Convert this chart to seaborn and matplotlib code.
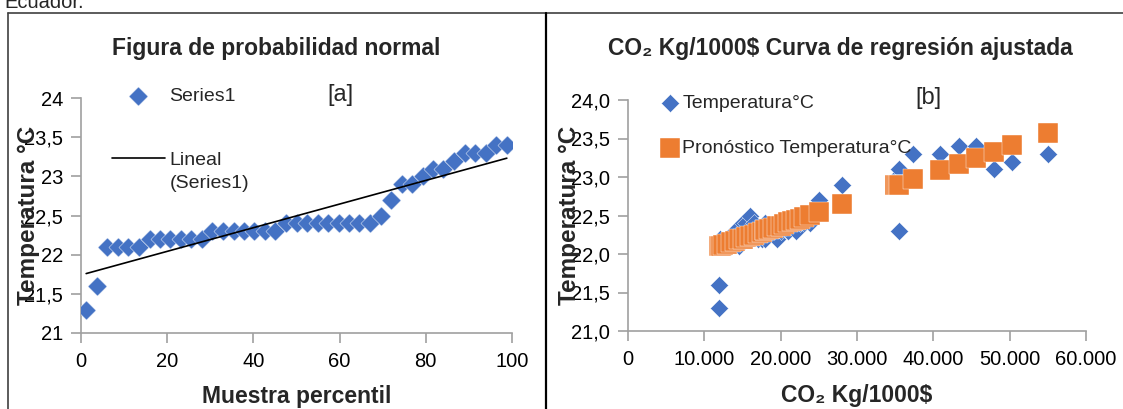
import matplotlib
matplotlib.use('Agg')
import matplotlib.pyplot as plt
from matplotlib.lines import Line2D
import seaborn as sns
import pandas as pd

# [a] normal probability plot: sample percentile vs temperature (sorted)
percentil = [1.2, 3.7, 6.1, 8.5, 11.0, 13.4, 15.9, 18.3, 20.7, 23.2, 25.6, 28.0, 30.5, 32.9,
             35.4, 37.8, 40.2, 42.7, 45.1, 47.6, 50.0, 52.4, 54.9, 57.3, 59.8, 62.2, 64.6,
             67.1, 69.5, 72.0, 74.4, 76.8, 79.3, 81.7, 84.1, 86.6, 89.0, 91.5, 93.9, 96.3, 98.8]
temp_sorted = [21.3, 21.6, 22.1, 22.1, 22.1, 22.1, 22.2, 22.2, 22.2, 22.2, 22.2, 22.2,
               22.3, 22.3, 22.3, 22.3, 22.3, 22.3, 22.3, 22.4, 22.4, 22.4, 22.4, 22.4,
               22.4, 22.4, 22.4, 22.4, 22.5, 22.7, 22.9, 22.9, 23.0, 23.1, 23.1, 23.2,
               23.3, 23.3, 23.3, 23.4, 23.4]

# [b] CO2 Kg/1000$ vs temperature and fitted forecast
co2 = [11900, 11900, 12000, 12200, 12500, 13000, 13500, 14000, 14500, 15000,
       15500, 16000, 16500, 17000, 17500, 18000, 18000, 18500, 19000, 19500,
       20000, 20500, 21000, 21500, 22000, 22500, 23000, 23900, 25000, 28100,
       35000, 35300, 35500, 35500, 37400, 40900, 43400, 45600, 47900, 50300, 55000]
temp = [21.3, 21.6, 22.2, 22.1, 22.1, 22.2, 22.1, 22.3, 22.1, 22.4,
        22.4, 22.5, 22.4, 22.2, 22.2, 22.4, 22.2, 22.3, 22.3, 22.2,
        22.3, 22.4, 22.3, 22.4, 22.3, 22.4, 22.4, 22.4, 22.7, 22.9,
        22.9, 23.0, 23.1, 22.3, 23.3, 23.3, 23.4, 23.4, 23.1, 23.2, 23.3]
pronostico = [22.10, 22.10, 22.10, 22.11, 22.12, 22.13, 22.15, 22.17, 22.19, 22.20,
              22.22, 22.24, 22.25, 22.27, 22.29, 22.31, 22.31, 22.32, 22.34, 22.36,
              22.37, 22.39, 22.41, 22.43, 22.44, 22.46, 22.48, 22.51, 22.55, 22.65,
              22.89, 22.90, 22.90, 22.90, 22.97, 23.09, 23.17, 23.25, 23.33, 23.41, 23.57]

a_yticks = [21, 21.5, 22, 22.5, 23, 23.5, 24]
a_yticklabels = ['21', '21,5', '22', '22,5', '23', '23,5', '24']
a_xticks = [0, 20, 40, 60, 80, 100]
b_yticks = [21, 21.5, 22, 22.5, 23, 23.5, 24]
b_yticklabels = ['21,0', '21,5', '22,0', '22,5', '23,0', '23,5', '24,0']
b_xticks = [0, 10000, 20000, 30000, 40000, 50000, 60000]
b_xticklabels = ['0', '10.000', '20.000', '30.000', '40.000', '50.000', '60.000']

df_a = pd.DataFrame({'percentil': percentil, 'temp': temp_sorted})
df_b = pd.DataFrame({'co2': co2, 'temp': temp, 'pron': pronostico})

sns.set_style('white')
plt.rcParams['font.family'] = ['Liberation Sans Narrow', 'Liberation Sans', 'DejaVu Sans']

BLUE = '#4472C4'
ORANGE = '#ED7D31'
GRAY = '#a0a0a0'
W, H = 1123, 409

fig = plt.figure(figsize=(W / 100, H / 100), dpi=100)
ax1 = fig.add_axes([81 / W, 1 - 333 / H, 431 / W, 235 / H])
ax2 = fig.add_axes([628 / W, 1 - 331 / H, 458 / W, 231 / H])

# panel a
sns.scatterplot(data=df_a, x='percentil', y='temp', marker='D', s=95, color=BLUE,
                edgecolor='white', linewidth=0.3, ax=ax1, label='Series1', zorder=3)
sns.regplot(data=df_a, x='percentil', y='temp', scatter=False, ci=None, ax=ax1,
            color='black', line_kws={'lw': 1.2, 'zorder': 4}, label='Lineal')
ax1.set_xlim(0, 100)
ax1.set_ylim(21, 24)
ax1.set_xticks(a_xticks)
ax1.set_yticks(a_yticks)
ax1.set_yticklabels(a_yticklabels)
ax1.legend(loc='upper left', bbox_to_anchor=(112 / W, 1 - 87 / H),
           bbox_transform=fig.transFigure, frameon=False, fontsize=14,
           handlelength=2.7, handletextpad=0.25, labelspacing=2.4, borderpad=0,
           borderaxespad=0)
fig.text(170 / W, 1 - 183 / H, '(Series1)', ha='left', va='center', fontsize=14)

# panel b
sns.scatterplot(data=df_b, x='co2', y='temp', marker='D', s=85, color=BLUE,
                edgecolor='white', linewidth=0.3, ax=ax2, label='Temperatura°C', zorder=3)
sns.scatterplot(data=df_b, x='co2', y='pron', marker='s', s=200, color=ORANGE,
                edgecolor='white', linewidth=0.3, ax=ax2,
                label='Pronóstico Temperatura°C', zorder=4)
ax2.set_xlim(0, 60000)
ax2.set_ylim(21, 24)
ax2.set_xticks(b_xticks)
ax2.set_xticklabels(b_xticklabels)
ax2.set_yticks(b_yticks)
ax2.set_yticklabels(b_yticklabels)
ax2.legend(loc='upper left', bbox_to_anchor=(660 / W, 1 - 94 / H),
           bbox_transform=fig.transFigure, frameon=False, fontsize=14,
           handlelength=1.0, handletextpad=0.15, labelspacing=1.45, borderpad=0,
           borderaxespad=0, markerscale=1.0)

for ax in (ax1, ax2):
    sns.despine(ax=ax)
    for side in ('left', 'bottom'):
        ax.spines[side].set_color(GRAY)
        ax.spines[side].set_linewidth(1.2)
    ax.tick_params(axis='both', direction='out', length=7, width=1.2, color=GRAY,
                   labelsize=14.5, labelcolor='black', left=True, bottom=True)
    ax.tick_params(axis='y', pad=6)
    ax.tick_params(axis='x', pad=7)
    ax.grid(False)

ax1.set_xlabel('Muestra percentil', fontsize=16.5, fontweight='bold')
ax1.set_ylabel('Temperatura °C', fontsize=17.5, fontweight='bold')
ax2.set_xlabel('CO₂ Kg/1000$', fontsize=16.5, fontweight='bold')
ax2.set_ylabel('Temperatura °C', fontsize=17.5, fontweight='bold')
ax1.xaxis.set_label_coords(0.5, -0.22)
ax2.xaxis.set_label_coords(0.5, -0.23)
ax1.yaxis.set_label_coords(-0.095, 0.5)
ax2.yaxis.set_label_coords(-0.103, 0.5)

fig.text(276 / W, 1 - 49 / H, 'Figura de probabilidad normal', ha='center', va='center',
         fontsize=16.5, fontweight='bold')
fig.text(840 / W, 1 - 49 / H, 'CO₂ Kg/1000$ Curva de regresión ajustada', ha='center',
         va='center', fontsize=16.5, fontweight='bold')
fig.text(340 / W, 1 - 95 / H, '[a]', ha='center', va='center', fontsize=17)
fig.text(928 / W, 1 - 98 / H, '[b]', ha='center', va='center', fontsize=17)
fig.text(4 / W, 1 - 8 / H, 'Ecuador.', ha='left', va='baseline', fontsize=14.5)

# panel frame lines
fig.add_artist(Line2D([8 / W, 1], [1 - 13 / H, 1 - 13 / H], color='#404040', lw=1.2,
                      transform=fig.transFigure))
fig.add_artist(Line2D([8 / W, 8 / W], [0, 1 - 13 / H], color='#404040', lw=1.2,
                      transform=fig.transFigure))
fig.add_artist(Line2D([546 / W, 546 / W], [0, 1 - 13 / H], color='black', lw=1.6,
                      transform=fig.transFigure))

fig.savefig('out.png', dpi=100)
